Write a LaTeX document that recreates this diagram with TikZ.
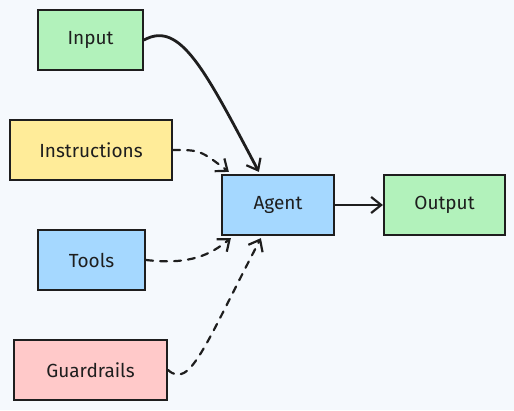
\documentclass[tikz,border=0pt]{standalone}
\usepackage{fontspec}
\setmainfont{Fira Sans}
\usetikzlibrary{arrows.meta}
\definecolor{bg}{HTML}{F5F9FD}
\definecolor{ink}{HTML}{1E1E1E}
\definecolor{cgreen}{HTML}{B2F2BB}
\definecolor{cyellow}{HTML}{FFEC99}
\definecolor{cblue}{HTML}{A5D8FF}
\definecolor{cred}{HTML}{FFC9C9}
\tikzset{
  box/.style={draw=ink, line width=2.2pt, minimum height=60pt, inner sep=0pt,
    font=\fontsize{19}{22}\selectfont, text=ink},
  conn/.style={draw=ink, line width=2.2pt, line cap=round,
    -{Straight Barb[length=10pt,width=16pt,line width=2.2pt]}},
  dashconn/.style={conn, dash pattern=on 7pt off 7pt},
}
\begin{document}
\begin{tikzpicture}[x=1pt,y=-1pt]
\fill[bg] (0,0) rectangle (514,410);
\useasboundingbox (0,0) rectangle (514,410);
\node[box, fill=cgreen, minimum width=105pt] (input) at (90.5,40) {Input};
\node[box, fill=cyellow, minimum width=162pt] (instr) at (91,150) {Instructions};
\node[box, fill=cblue, minimum width=107pt] (tools) at (91.5,260) {Tools};
\node[box, fill=cred, minimum width=153pt] (guard) at (90.5,370) {Guardrails};
\node[box, fill=cblue, minimum width=112pt] (agent) at (278,205) {Agent};
\node[box, fill=cgreen, minimum width=121pt] (output) at (444.5,205) {Output};
\coordinate (a1) at ([xshift=38pt,yshift=2pt]agent.north west);
\coordinate (a2) at ([xshift=8pt,yshift=2pt]agent.north west);
\coordinate (a3) at ([xshift=10pt,yshift=-2pt]agent.south west);
\coordinate (a4) at ([xshift=40pt,yshift=-2pt]agent.south west);
\draw[conn, line width=2.8pt] (input.east) .. controls (180,20) and (205,70) .. (a1);
\draw[dashconn] (instr.east) .. controls (200,150) .. (a2);
\draw[dashconn] (tools.east) .. controls (190,265) and (210,255) .. (a3);
\draw[dashconn] (guard.east) .. controls (190,390) and (205,345) .. (a4);
\draw[conn] (agent.east) -- (output.west);
\end{tikzpicture}
\end{document}
